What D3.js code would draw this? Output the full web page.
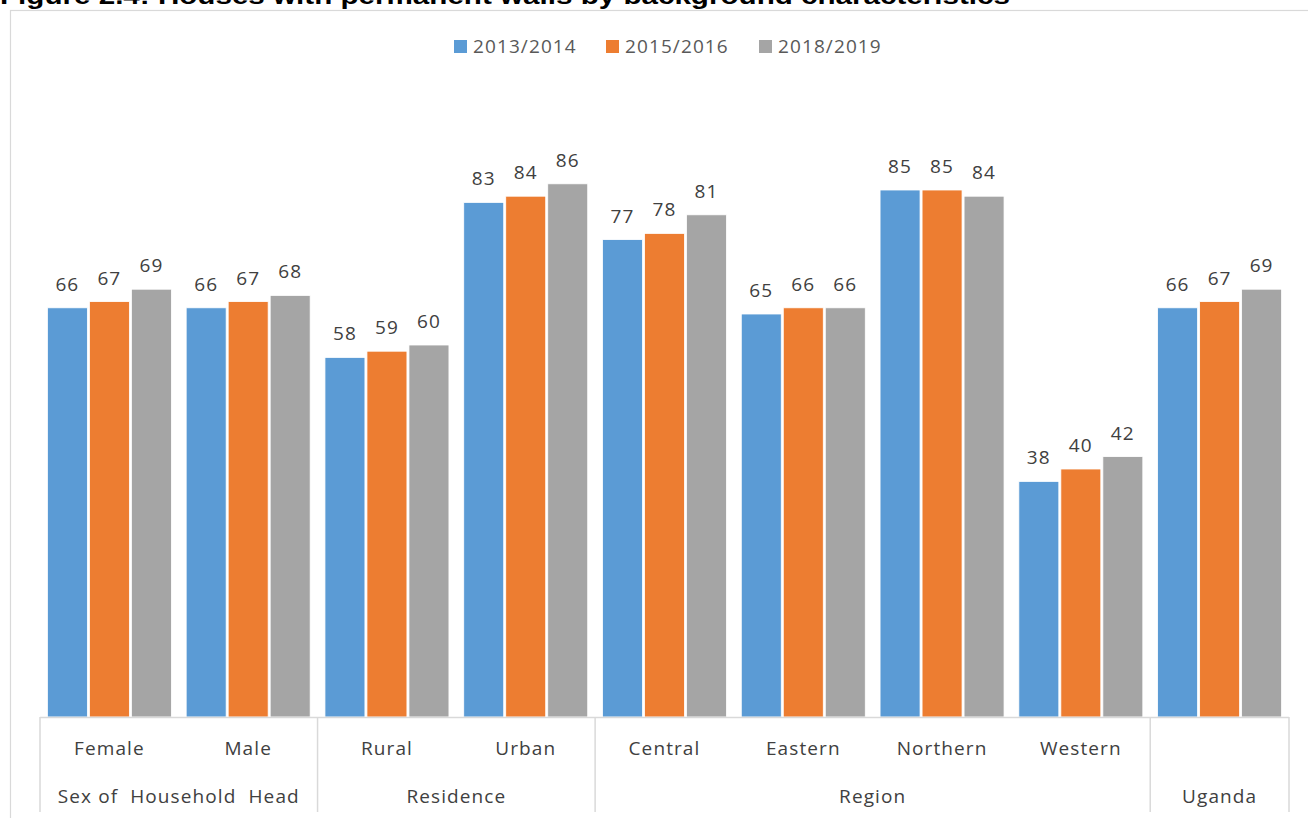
<!DOCTYPE html>
<html>
<head>
<meta charset="utf-8">
<script src="https://cdn.jsdelivr.net/npm/d3@7"></script>
<style>
  html, body { margin: 0; padding: 0; background: #ffffff; }
  svg { display: block; }
  text { white-space: pre; }
</style>
</head>
<body>
<svg id="chart" width="1308" height="818"></svg>
<script>
// Houses with permanent walls (%) by background characteristics
const categories = ["Female", "Male", "Rural", "Urban", "Central", "Eastern", "Northern", "Western", "Uganda"];
const categoryLabels = ["Female", "Male", "Rural", "Urban", "Central", "Eastern", "Northern", "Western", ""];
const groupNames = ["Sex of  Household  Head", "Residence", "Region", "Uganda"];
const groupSizes = [2, 2, 4, 1];
const seriesNames = ["2013/2014", "2015/2016", "2018/2019"];
const values2013 = [66, 66, 58, 83, 77, 65, 85, 38, 66];
const values2015 = [67, 67, 59, 84, 78, 66, 85, 40, 67];
const values2018 = [69, 68, 60, 86, 81, 66, 84, 42, 69];
const seriesColors = ["#5B9BD5", "#ED7D31", "#A5A5A5"];

const seriesValues = [values2013, values2015, values2018];
const W = 1308, H = 818;
const svg = d3.select("#chart");
const FONT = "'Open Sans', sans-serif";
const SPACING = "1.1px";

// Title, running off the top edge of the page
svg.append("text")
  .attr("x", 0).attr("y", 4)
  .attr("font-family", "'Liberation Sans', Arial, sans-serif")
  .attr("font-weight", "bold")
  .attr("font-size", 24)
  .attr("textLength", 1010)
  .attr("lengthAdjust", "spacingAndGlyphs")
  .attr("fill", "#000")
  .text("Figure 2.4: Houses with permanent walls by background characteristics");

// Chart area frame
svg.append("rect")
  .attr("x", 10.5).attr("y", 10.5)
  .attr("width", W).attr("height", H)
  .attr("fill", "none")
  .attr("stroke", "#d9d9d9")
  .attr("stroke-width", 1.2);

const plot = { left: 40, right: 1289, top: 97, bottom: 717 };

const x0 = d3.scaleBand()
  .domain(categories)
  .range([plot.left, plot.right])
  .paddingInner(0).paddingOuter(0);

const x1 = d3.scaleBand()
  .domain(seriesNames)
  .range([0, x0.bandwidth()])
  .paddingInner(0.048)
  .paddingOuter(0.176);

const y = d3.scaleLinear().domain([0, 100]).range([plot.bottom, plot.top]);

// Bars
const rows = categories.map((c, i) => ({
  cat: c,
  vals: seriesNames.map((s, j) => ({ series: s, j, v: seriesValues[j][i] }))
}));

const gCat = svg.append("g").selectAll("g")
  .data(rows).join("g")
  .attr("transform", d => `translate(${x0(d.cat)},0)`);

gCat.selectAll("rect")
  .data(d => d.vals).join("rect")
  .attr("x", d => x1(d.series))
  .attr("y", d => y(d.v))
  .attr("width", x1.bandwidth())
  .attr("height", d => y(0) - y(d.v))
  .attr("fill", d => seriesColors[d.j])
  .attr("stroke", "#ffffff")
  .attr("stroke-width", 0.8);

// Value labels
gCat.selectAll("text")
  .data(d => d.vals).join("text")
  .attr("x", d => x1(d.series) + x1.bandwidth() / 2)
  .attr("y", d => y(d.v) - 17)
  .attr("text-anchor", "middle")
  .attr("font-family", FONT)
  .attr("font-size", 19)
  .attr("letter-spacing", SPACING)
  .attr("fill", "#404040")
  .text(d => d.v);

// Category axis: baseline, group separators and two label rows
const axis = svg.append("g");
const lineColor = "#d9d9d9";
axis.append("line")
  .attr("x1", plot.left).attr("x2", plot.right)
  .attr("y1", plot.bottom + 0.5).attr("y2", plot.bottom + 0.5)
  .attr("stroke", lineColor).attr("stroke-width", 1.5);

let idx = 0;
const groupBounds = groupSizes.map((n, g) => {
  const start = x0(categories[idx]);
  const end = x0(categories[idx + n - 1]) + x0.bandwidth();
  idx += n;
  return { name: groupNames[g], start, end };
});

const seps = [plot.left].concat(groupBounds.map(g => g.end));
axis.selectAll("line.sep")
  .data(seps).join("line")
  .attr("class", "sep")
  .attr("x1", d => d).attr("x2", d => d)
  .attr("y1", plot.bottom).attr("y2", 812)
  .attr("stroke", lineColor).attr("stroke-width", 1.5);

axis.selectAll("text.cat")
  .data(categories).join("text")
  .attr("class", "cat")
  .attr("x", d => x0(d) + x0.bandwidth() / 2)
  .attr("y", 755)
  .attr("text-anchor", "middle")
  .attr("font-family", FONT)
  .attr("font-size", 19)
  .attr("letter-spacing", SPACING)
  .attr("fill", "#404040")
  .text((d, i) => categoryLabels[i]);

axis.selectAll("text.grp")
  .data(groupBounds).join("text")
  .attr("class", "grp")
  .attr("x", d => (d.start + d.end) / 2)
  .attr("y", 803)
  .attr("text-anchor", "middle")
  .attr("font-family", FONT)
  .attr("font-size", 19)
  .attr("letter-spacing", SPACING)
  .attr("fill", "#404040")
  .text(d => d.name);

// Legend
const legendX = [454, 606, 759];
const legend = svg.append("g").selectAll("g")
  .data(seriesNames).join("g")
  .attr("transform", (d, i) => `translate(${legendX[i]},40)`);
legend.append("rect")
  .attr("width", 13).attr("height", 13)
  .attr("fill", (d, i) => seriesColors[i]);
legend.append("text")
  .attr("x", 19).attr("y", 13)
  .attr("font-family", FONT)
  .attr("font-size", 19)
  .attr("letter-spacing", SPACING)
  .attr("fill", "#595959")
  .text(d => d);
</script>
</body>
</html>
